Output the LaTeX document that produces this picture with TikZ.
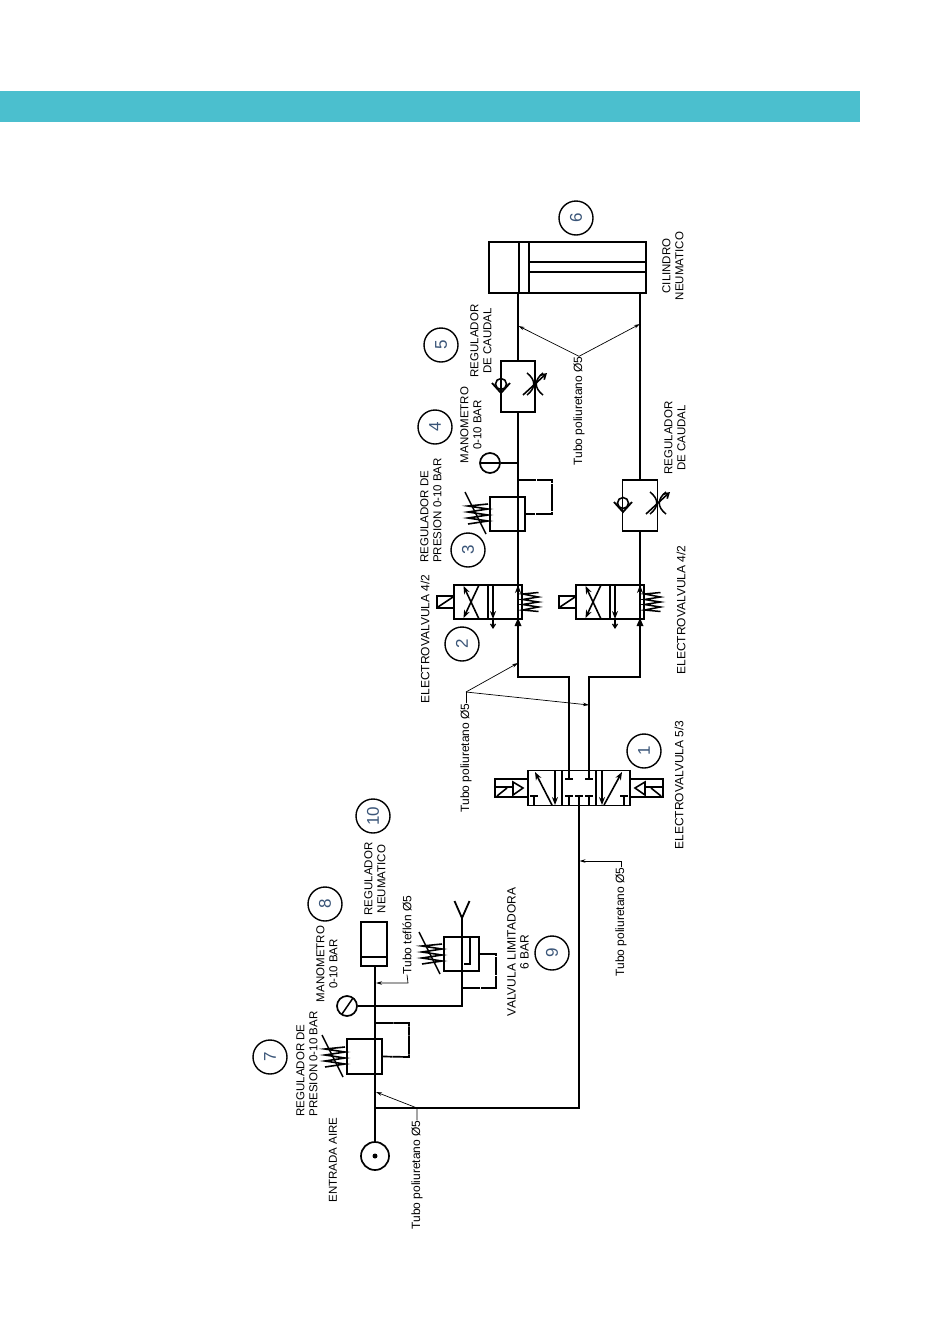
\documentclass[tikz,border=0pt]{standalone}
\usepackage{fontspec}
\setmainfont{Liberation Sans}
\usetikzlibrary{arrows.meta}
\definecolor{bandcol}{HTML}{4BBFCE}
\definecolor{numcol}{HTML}{3A5578}
\begin{document}
\begin{tikzpicture}[x=1pt,y=-1pt,>={Stealth[length=6pt,width=3.5pt]},
	pipe/.style={line width=1.8pt},
	feedback/.style={line width=1.7pt,dash pattern=on 9pt off 0.4pt},
	leader/.style={line width=0.7pt},
	flowarrow/.style={line width=1.6pt,-{Stealth[length=8pt,width=6pt]}},
	boxnode/.style={draw,line width=1.8pt,inner sep=0pt},
	numcirc/.style={draw,circle,line width=1.4pt,minimum size=34pt,inner sep=0pt,text=numcol,rotate=90,font=\fontsize{17}{17}\selectfont},
	lbl/.style={rotate=90,align=center,inner sep=0pt,font=\fontsize{11.5}{13}\selectfont},
	lblwide/.style={lbl,font=\fontsize{12}{13}\selectfont},
	lblleft/.style={lbl,align=left},
	tubo/.style={rotate=90,inner sep=0pt,font=\fontsize{12}{13}\selectfont},
	coilspring/.pic={\draw[line width=1.5pt] (8,-9.5) -- (-8,-8) -- (8,-5) -- (-8,-2.5) -- (8,0) -- (-8,2.5) -- (8,5) -- (-8,8) -- (8,9.5);},
	adjspring/.pic={\draw[line width=1.6pt] (10,-10) -- (-10,-8) -- (10,-5) -- (-10,-2) -- (10,1) -- (-10,4) -- (10,7) -- (-10,10);
		\draw[line width=1.5pt] (-13,-22) -- (8,20);},
	throttle/.pic={\draw[line width=1.5pt] (-8,-11) .. controls (1,-4) and (1,4) .. (-8,11);
		\draw[line width=1.5pt] (8,-11) .. controls (-1,-4) and (-1,4) .. (8,11);
		\draw[line width=1.6pt,-{Straight Barb[length=5pt,width=6pt]}] (-12,11) -- (12,-11);},
	checkseat/.pic={\draw[line width=1.6pt] (0,0) circle (5.5);
		\draw[line width=1.8pt] (-9,-1) -- (0,9) -- (9,-1);},
	solenoid/.pic={\draw[line width=1.6pt] (0,-9) -- (-33,-9) -- (-33,9) -- (0,9);
		\draw[line width=1.6pt] (-33,-1) -- (-15,-1);
		\draw[line width=1.6pt] (-31,8) -- (-21,0);
		\draw[line width=1.6pt] (-15,-6) -- (-5,0) -- (-15,7) -- cycle;}]

	\useasboundingbox (0,0) rectangle (950,1344);
	\fill[bandcol] (0,91) rectangle (860,122);

	\node(cyl) [boxnode,minimum width=157pt,minimum height=51pt] at (567.5,267.5) {};
	\node(r_5) [boxnode,minimum width=34pt,minimum height=51pt] at (518,386.5) {};
	\node(r_6) [boxnode,minimum width=35pt,minimum height=51pt] at (640,505.5) {};
	\node(r_3) [boxnode,minimum width=35pt,minimum height=34pt] at (507.5,514) {};
	\node(v_1) [boxnode,minimum width=102pt,minimum height=35pt] at (579,788) {};
	\node(r_7) [boxnode,minimum width=35pt,minimum height=35pt] at (364.5,1056.5) {};
	\node(r_9) [boxnode,minimum width=35pt,minimum height=34pt] at (461.5,954) {};
	\node(r_10) [boxnode,minimum width=26pt,minimum height=44pt] at (374,944) {};
	\node(m_4) [draw,circle,line width=1.7pt,minimum size=20pt,inner sep=0pt] at (490,463) {};
	\node(m_8) [draw,circle,line width=1.7pt,minimum size=20pt,inner sep=0pt] at (347,1006) {};
	\node(air) [draw,circle,line width=1.7pt,minimum size=28pt,inner sep=0pt] at (375,1156) {};

	\coordinate (A_b) at (518,677);
	\coordinate (B_b) at (640,677);
	\coordinate (v1_a) at (569,779);
	\coordinate (v1_b) at (589,779);
	\coordinate (v1_c) at (579,796);
	\coordinate (j_3) at (518,480);
	\coordinate (j_4) at (518,463);
	\coordinate (j_7) at (375,1023);
	\coordinate (j_e) at (375,1108);
	\coordinate (c_9) at (462,1006);
	\coordinate (ex_9) at (462,918);
	\coordinate (j_9) at (462,988);

	\draw[pipe] (r_5.north) -- (r_5.north |- cyl.south);
	\draw[pipe] (r_6.north) -- (r_6.north |- cyl.south);
	\draw[pipe] (r_5.south) -- (A_b) -| (v1_a);
	\draw[pipe] (r_6.south) -- (B_b) -| (v1_b);
	\draw[pipe] (m_4.east) -- (j_4);
	\draw[pipe] (r_10.south -| air.north) -- (air.north);
	\draw[pipe] (j_e) -| (v1_c);
	\draw[pipe] (m_8.east) -- (c_9) -- (ex_9);
	\draw[pipe] (454.5,901) -- (ex_9) -- (469.5,901);

	\draw[feedback] (j_3) -| (552,514) -- (r_3.east);
	\draw[feedback] (j_7) -| (409,1057) -- (r_7.east);
	\draw[feedback] (r_9.east) -| (496,988) -- (j_9);

	\draw[line width=1.5pt] (480.5,463) -- (499.5,463);
	\draw[line width=1.5pt] (342,1014) -- (353,998);
	\fill (air.center) circle (2.5);

	%cylinder
	\draw[pipe] (519,242) -- (519,293);
	\draw[pipe] (529,242) -- (529,293);
	\draw[pipe] (529,262) -- (646,262);
	\draw[pipe] (529,272) -- (646,272);

	%regulators
	\draw[pipe] (r_10.west |- 0,957) -- (r_10.east |- 0,957);
	\path (478,514) pic {adjspring} (335,1057) pic {adjspring} (432,954) pic {adjspring};
	\path (501,384) pic {checkseat} (623,503) pic {checkseat};
	\path (535,384) pic {throttle} (658,503) pic {throttle};
	\draw[pipe] (470,937) -- (470,964) -- (464,964);

	%valves 4/2
	\foreach \nm/\dx in {v_2/0,v_3/122}{
		\node(\nm) [boxnode,minimum width=68pt,minimum height=34pt] at (488+\dx,602) {};
		\begin{scope}[shift={(\dx,0)}]
			\draw[pipe] (488,585) -- (488,619);
			\draw[flowarrow] (479,585) -- (463.5,618);
			\draw[flowarrow] (479,619) -- (463.5,586);
			\draw[line width=1.6pt] (437,596) rectangle (454,608);
			\draw[line width=1.6pt] (438,607) -- (453,597);
			\draw[flowarrow] (493,585) -- (493,619);
			\draw[line width=1.2pt,-{Straight Barb[length=4pt,width=5pt]}] (493,619) -- (493,629);
			\draw[pipe] (518,585) -- (518,677);
			\draw[flowarrow] (518,619) -- (518,585);
			\draw[pipe] (518,585) -- (518,535);
			\path[pipe,fill] (518,618) -- (514.5,626) -- (521.5,626) -- cycle;
			\path (530.5,602) pic {coilspring};
		\end{scope}
	}
	\draw[pipe] (r_5.south) -- (v_2.north -| r_5.south);
	\draw[pipe] (r_6.south) -- (v_3.north -| r_6.south);

	%valve 5/3
	\draw[pipe] (562,771) -- (562,805);
	\draw[pipe] (596,771) -- (596,805);
	\draw[flowarrow] (555,771) -- (555,805);
	\draw[flowarrow] (602,771) -- (602,805);
	\draw[flowarrow] (552,805) -- (535,772);
	\draw[flowarrow] (604,805) -- (622,772);
	\foreach \px in {534,569,579,589,624}{
		\draw[pipe] (\px,805) -- (\px,796);
		\draw[pipe] (\px-4,796) -- (\px+4,796);
	}
	\foreach \px in {569,589}{
		\draw[pipe] (\px-4,779) -- (\px+4,779);
	}
	\path (528,788) pic {solenoid} (630,788) pic[xscale=-1] {solenoid};

	\foreach \num/\px/\py in {1/644/751,2/462/644,3/468/550,4/435/427,5/441/345,6/576/218,7/270/1057,8/325/904,9/552/953,10/373/816}{
		\node(n_\num) [numcirc] at (\px,\py) {\num};
	}

	\node(l_cyl) [lbl] at (673,266) {CILINDRO\\NEUMATICO};
	\node(l_r5) [lbl] at (481,341) {REGULADOR\\DE CAUDAL};
	\node(l_r6) [lbl] at (675,438) {REGULADOR\\DE CAUDAL};
	\node(l_m4) [lbl] at (471,425) {MANOMETRO\\0-10 BAR};
	\node(l_r3) [lblleft] at (431,510.5) {REGULADOR DE\\PRESION 0-10 BAR};
	\node(l_v2) [lblwide] at (425,639) {ELECTROVALVULA 4/2};
	\node(l_v3) [lblwide] at (681,610) {ELECTROVALVULA 4/2};
	\node(l_v1) [lblwide] at (679,785) {ELECTROVALVULA 5/3};
	\node(l_r10) [lbl] at (375,879) {REGULADOR\\NEUMATICO};
	\node(l_m8) [lbl] at (327,964) {MANOMETRO\\0-10 BAR};
	\node(l_r9) [lblwide] at (518,952) {VALVULA LIMITADORA\\6 BAR};
	\node(l_r7) [lblleft] at (307,1064) {REGULADOR DE\\PRESION 0-10 BAR};
	\node(l_air) [lbl] at (333,1160) {ENTRADA AIRE};

	\node(t_1) [tubo] at (579,411) {Tubo poliuretano Ø5};
	\node(t_2) [tubo] at (466,758) {Tubo poliuretano Ø5};
	\node(t_3) [tubo] at (621,922) {Tubo poliuretano Ø5};
	\node(t_4) [tubo] at (417,1175) {Tubo poliuretano Ø5};
	\node(t_5) [tubo] at (407,935) {Tubo teflón Ø5};

	\coordinate (ld_2) at (466,692);
	\coordinate (ld_3) at (621,861);
	\coordinate (ld_4) at (417,1108);
	\coordinate (ld_5) at (408,983);
	\coordinate (h_a) at (518.5,326);
	\coordinate (h_b) at (640,324);
	\coordinate (h_c) at (518,663);
	\coordinate (h_d) at (589,705);
	\coordinate (h_e) at (579.5,861);
	\coordinate (h_f) at (376,1092);
	\coordinate (h_g) at (376,983);

	\draw[leader,->] (t_1.east) -- (h_a);
	\draw[leader,->] (t_1.east) -- (h_b);
	\draw[leader] (t_2.east) -- (ld_2);
	\draw[leader,->] (ld_2) -- (h_c);
	\draw[leader,->] (ld_2) -- (h_d);
	\draw[leader,->] (t_3.east) -- (ld_3) -- (h_e);
	\draw[leader,->] (t_4.east) -- (ld_4) -- (h_f);
	\draw[leader,->] (t_5.west) -- (ld_5) -- (h_g);

\end{tikzpicture}
\end{document}
